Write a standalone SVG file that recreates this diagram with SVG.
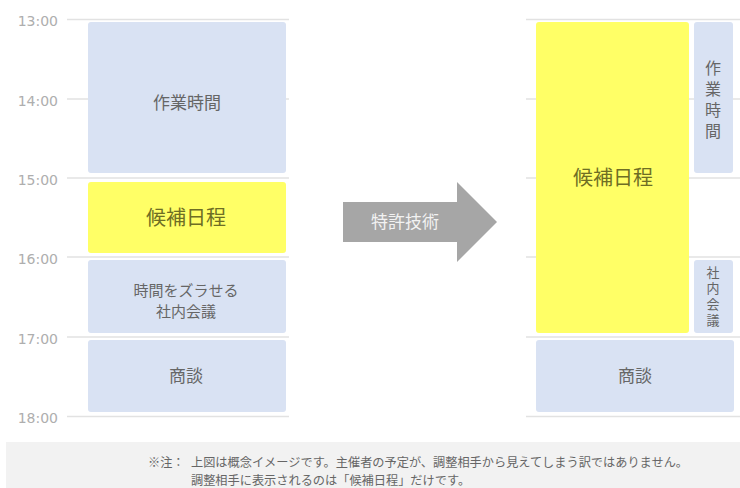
<svg xmlns="http://www.w3.org/2000/svg" width="740" height="488" viewBox="0 0 740 488">
<style>
.grid{stroke:#e2e2e2;stroke-width:1.5}
.time{font-family:"DejaVu Sans",sans-serif;font-size:14px;fill:#aeaeae;text-anchor:end}
.blue{fill:#d9e2f3}
.yel{fill:#ffff66}
.lbl{font-family:"Noto Sans CJK JP",sans-serif;fill:#666666;text-anchor:middle}
.vert{writing-mode:vertical-rl;text-orientation:upright}
.ylbl{font-family:"Noto Sans CJK JP",sans-serif;fill:#6e6e24;text-anchor:middle}
.note{font-family:"Noto Sans CJK JP",sans-serif;font-size:12.2px;fill:#666666}
</style>
<rect width="740" height="488" fill="#ffffff"/>
<g id="grid-left">
<line class="grid" x1="67" y1="19.5" x2="289" y2="19.5"/>
<line class="grid" x1="67" y1="99" x2="289" y2="99"/>
<line class="grid" x1="67" y1="178" x2="289" y2="178"/>
<line class="grid" x1="67" y1="257" x2="289" y2="257"/>
<line class="grid" x1="67" y1="337" x2="289" y2="337"/>
<line class="grid" x1="67" y1="416.5" x2="289" y2="416.5"/>
</g>
<g id="grid-right">
<line class="grid" x1="526" y1="19.5" x2="740" y2="19.5"/>
<line class="grid" x1="526" y1="99" x2="740" y2="99"/>
<line class="grid" x1="526" y1="178" x2="740" y2="178"/>
<line class="grid" x1="526" y1="257" x2="740" y2="257"/>
<line class="grid" x1="526" y1="337" x2="740" y2="337"/>
<line class="grid" x1="526" y1="416.5" x2="740" y2="416.5"/>
</g>
<g id="times">
<text class="time" x="58" y="26">13:00</text>
<text class="time" x="58" y="105.5">14:00</text>
<text class="time" x="58" y="184.5">15:00</text>
<text class="time" x="58" y="263.5">16:00</text>
<text class="time" x="58" y="343.5">17:00</text>
<text class="time" x="58" y="423">18:00</text>
</g>
<g id="left-work">
<rect class="blue" x="88" y="22" width="198" height="151" rx="3"/>
<text class="lbl" x="187" y="109" font-size="17">作業時間</text>
</g>
<g id="left-candidate">
<rect class="yel" x="88" y="182" width="198" height="71" rx="3"/>
<text class="ylbl" x="186" y="225" font-size="20">候補日程</text>
</g>
<g id="left-meeting">
<rect class="blue" x="88" y="260" width="198" height="73" rx="3"/>
<text class="lbl" x="186" y="296" font-size="15">時間をズラせる</text>
<text class="lbl" x="186" y="317" font-size="15">社内会議</text>
</g>
<g id="left-deal">
<rect class="blue" x="88" y="340" width="198" height="72" rx="3"/>
<text class="lbl" x="186" y="382" font-size="17">商談</text>
</g>
<g id="arrow">
<polygon points="343,202 457,202 457,182 497,222 457,262 457,242 343,242" fill="#a6a6a6"/>
<text x="405" y="228" font-family="Noto Sans CJK JP,sans-serif" font-size="17" fill="#f2f2f2" text-anchor="middle">特許技術</text>
</g>
<g id="right-candidate">
<rect class="yel" x="536" y="22" width="153" height="311" rx="3"/>
<text class="ylbl" x="613" y="185" font-size="20">候補日程</text>
</g>
<g id="right-work">
<rect class="blue" x="694" y="22" width="39" height="151" rx="3"/>
<text class="lbl vert" font-size="16" letter-spacing="5" x="713" y="102">作業時間</text>
</g>
<g id="right-meeting">
<rect class="blue" x="694" y="260" width="39" height="73" rx="3"/>
<text class="lbl vert" font-size="13" letter-spacing="3" x="713" y="298">社内会議</text>
</g>
<g id="right-deal">
<rect class="blue" x="536" y="340" width="198" height="72" rx="3"/>
<text class="lbl" x="635" y="382" font-size="17">商談</text>
</g>
<g id="note">
<rect x="6" y="442" width="734" height="46" fill="#f2f2f2"/>
<text class="note" x="148" y="467">※注：</text>
<text class="note" x="191" y="467">上図は概念イメージです。主催者の予定が、調整相手から見えてしまう訳ではありません。</text>
<text class="note" x="191" y="485">調整相手に表示されるのは「候補日程」だけです。</text>
</g>
</svg>
